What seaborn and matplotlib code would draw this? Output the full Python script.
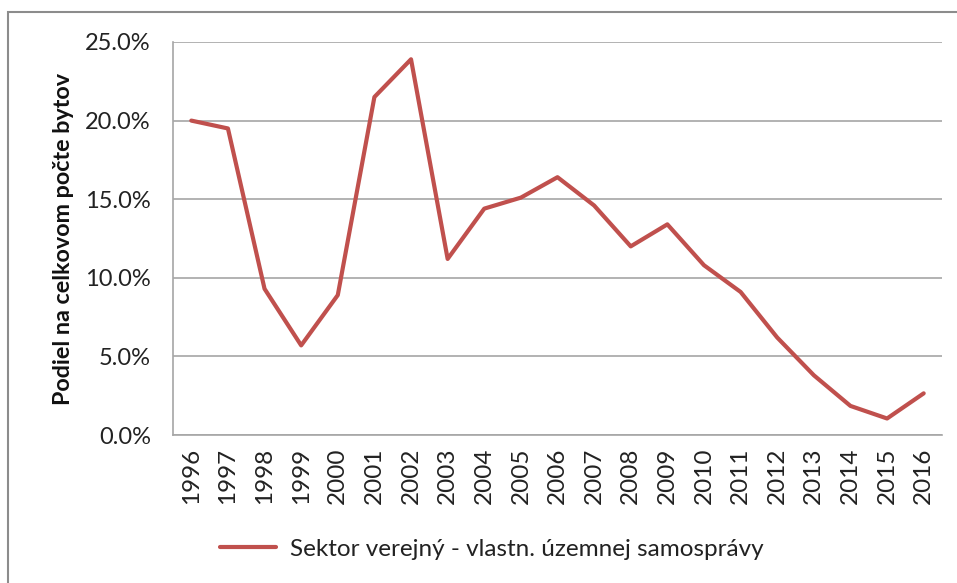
import matplotlib
matplotlib.use("Agg")
import matplotlib.pyplot as plt
import seaborn as sns
import pandas as pd
import numpy as np
from matplotlib.ticker import FuncFormatter, FixedLocator
from matplotlib.patches import Rectangle

years = ["1996", "1997", "1998", "1999", "2000", "2001", "2002", "2003", "2004",
         "2005", "2006", "2007", "2008", "2009", "2010", "2011", "2012", "2013",
         "2014", "2015", "2016"]
share = [20.0, 19.5, 9.3, 5.7, 8.9, 21.5, 23.9, 11.2, 14.4, 15.1, 16.4, 14.6,
         12.0, 13.4, 10.8, 9.1, 6.2, 3.8, 1.85, 1.05, 2.65]
series_name = "Sektor verejný - vlastn. územnej samosprávy"
y_ticks = [0, 5, 10, 15, 20, 25]

sns.set_theme(style="white")
plt.rcParams['font.family'] = ['Lato', 'DejaVu Sans']

df = pd.DataFrame({"pos": np.arange(len(years)), "share": share, "series": series_name})

fig = plt.figure(figsize=(9.57, 5.83), dpi=100)
ax = fig.add_axes([173/957, 1 - 435/583, (942-173)/957, (435-42)/583])

sns.lineplot(data=df, x="pos", y="share", hue="series", palette=["#C0504D"],
             linewidth=3.0, ax=ax, legend=True)

ax.set_xlim(-0.5, len(years) - 0.5)
ax.set_ylim(0, 25)
ax.yaxis.set_major_locator(FixedLocator(y_ticks))
ax.yaxis.set_major_formatter(FuncFormatter(lambda v, p: f"{v:.1f}%"))
ax.set_xticks(np.arange(len(years)))
ax.set_xticklabels(years, rotation=90)
ax.tick_params(axis="y", labelsize=17, colors="#222222", pad=16, length=0)
ax.tick_params(axis="x", labelsize=17.5, colors="#222222", pad=9, length=0)
ax.grid(axis="y", color="#A6A6A6", linewidth=1.2)
ax.set_axisbelow(True)
for s in ["top", "right"]:
    ax.spines[s].set_visible(False)
for s in ["left", "bottom"]:
    ax.spines[s].set_color("#A6A6A6")
    ax.spines[s].set_linewidth(1.2)
ax.set_xlabel("")
ax.set_ylabel("Podiel na celkovom počte bytov", fontsize=16.8, fontweight="bold",
              color="#111111", labelpad=8)

handles, labels = ax.get_legend_handles_labels()
ax.legend_.remove()
fig.legend(handles, labels, loc="center", bbox_to_anchor=(492/957, 1 - 549/583),
           frameon=False, fontsize=17.5, handlelength=2.3, handletextpad=0.6,
           labelcolor="#222222")

fig.patches.append(Rectangle((8/957, -0.05), 1.1, 1 - 12/583 + 0.05,
                             transform=fig.transFigure, fill=False,
                             edgecolor="#8C8C8C", linewidth=1.5))

fig.savefig("out.png", dpi=100)
